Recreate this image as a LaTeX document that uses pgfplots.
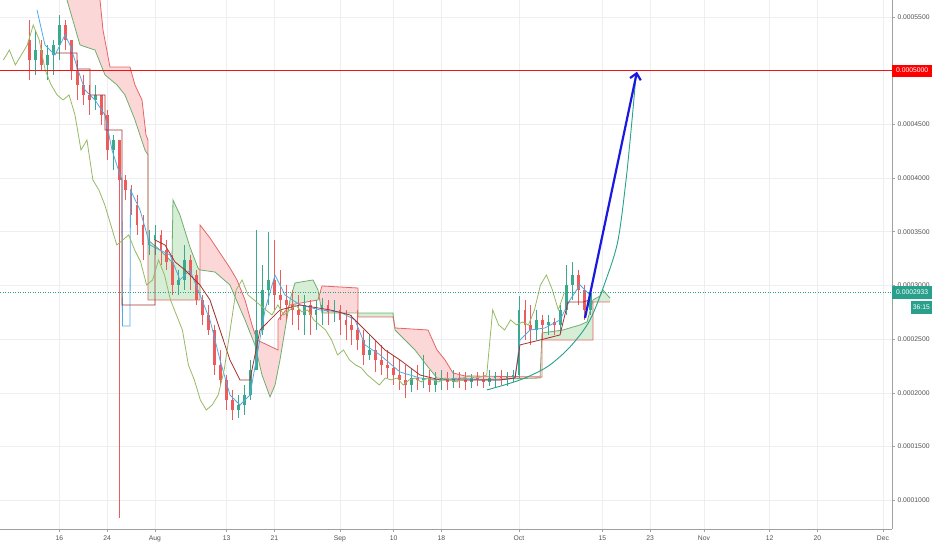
\documentclass[border=0pt]{standalone}
\usepackage{pgfplots}
\pgfplotsset{compat=1.18}
\usepackage{pgfplotstable}
\usepackage{fontspec}
\setmainfont{Liberation Sans}
\usetikzlibrary{arrows.meta}

\definecolor{upc}{RGB}{60,168,140}
\definecolor{dnc}{RGB}{236,92,92}
\definecolor{tenkan}{RGB}{80,170,230}
\definecolor{kijun}{RGB}{165,50,50}
\definecolor{lagging}{RGB}{150,185,100}
\definecolor{spana}{RGB}{110,175,110}
\definecolor{spanb}{RGB}{232,100,100}
\definecolor{cloudred}{RGB}{251,215,215}
\definecolor{cloudgreen}{RGB}{214,237,214}
\definecolor{gridgray}{RGB}{236,238,242}
\definecolor{axisgray}{RGB}{160,160,160}
\definecolor{labelgray}{RGB}{80,80,80}
\definecolor{lastteal}{RGB}{40,160,140}
\definecolor{targetred}{RGB}{240,20,20}
\definecolor{arrowblue}{RGB}{25,25,225}

% daily candles, price in units of 1e-4; d = days after 16 Jul
\pgfplotstableread{
d o h l c
-5 5.286 5.472 4.913 5.099
-4 5.099 5.379 4.960 5.192
-3 5.192 5.286 5.006 5.053
-2 5.053 5.239 4.913 5.146
-1 5.146 5.286 4.960 5.239
0 5.239 5.518 5.099 5.425
1 5.425 5.472 5.192 5.286
2 5.286 5.286 4.913 5.006
3 5.006 5.099 4.727 4.867
4 4.867 4.960 4.680 4.774
5 4.774 4.867 4.587 4.727
6 4.727 4.867 4.634 4.774
7 4.774 4.774 4.494 4.587
8 4.587 4.634 4.168 4.261
9 4.261 4.401 4.075 4.354
10 4.354 4.354 0.835 3.982
11 3.982 4.029 3.796 3.889
12 3.889 3.935 3.656 3.749
13 3.749 3.842 3.470 3.563
14 3.563 3.656 3.237 3.377
15 3.377 3.516 3.284 3.423
16 3.423 3.563 3.284 3.470
17 3.470 3.516 3.191 3.330
18 3.330 3.423 3.144 3.219
19 3.219 3.284 2.911 3.004
20 3.004 3.144 2.911 3.051
21 3.051 3.377 2.958 3.237
22 3.237 3.284 2.958 3.097
23 3.097 3.144 2.818 2.865
24 2.865 2.911 2.632 2.725
25 2.725 2.818 2.539 2.585
26 2.585 2.632 2.166 2.260
27 2.260 2.399 2.073 2.120
28 2.120 2.166 1.840 1.934
29 1.934 2.027 1.747 1.840
30 1.840 1.980 1.766 1.887
31 1.887 2.073 1.794 1.980
32 1.980 2.306 1.934 2.213
33 2.213 3.516 2.213 2.585
34 2.585 3.191 2.539 2.958
35 2.958 3.498 2.818 3.051
36 3.051 3.423 2.772 2.911
37 2.911 3.144 2.679 2.865
38 2.865 3.004 2.679 2.818
39 2.818 2.958 2.632 2.772
40 2.772 2.911 2.585 2.725
41 2.725 2.911 2.539 2.818
42 2.818 2.865 2.539 2.725
43 2.725 2.865 2.585 2.772
44 2.772 2.883 2.632 2.818
45 2.818 2.865 2.632 2.753
46 2.753 2.865 2.660 2.772
47 2.772 2.818 2.539 2.679
48 2.679 2.772 2.492 2.632
49 2.632 2.725 2.446 2.585
50 2.585 2.772 2.399 2.492
51 2.492 2.585 2.260 2.353
52 2.353 2.539 2.306 2.399
53 2.399 2.492 2.194 2.306
54 2.306 2.446 2.166 2.260
55 2.260 2.399 2.138 2.232
56 2.232 2.353 2.073 2.166
57 2.166 2.306 2.027 2.120
58 2.120 2.260 1.952 2.073
59 2.073 2.232 2.008 2.138
60 2.138 2.260 2.027 2.120
61 2.120 2.353 2.045 2.138
62 2.138 2.213 2.008 2.073
63 2.073 2.194 2.008 2.120
64 2.120 2.213 2.027 2.138
65 2.138 2.194 2.027 2.101
66 2.101 2.213 2.045 2.138
67 2.138 2.194 2.045 2.120
68 2.120 2.194 2.027 2.101
69 2.101 2.176 2.045 2.138
70 2.138 2.194 2.064 2.120
71 2.120 2.194 2.045 2.101
72 2.101 2.213 2.064 2.138
73 2.138 2.194 2.045 2.157
74 2.157 2.213 2.073 2.138
75 2.138 2.194 2.064 2.148
76 2.148 2.213 2.101 2.166
77 2.166 2.902 2.138 2.772
78 2.772 2.865 2.492 2.632
79 2.632 2.818 2.446 2.585
80 2.585 2.772 2.492 2.679
81 2.679 2.725 2.492 2.632
82 2.632 2.725 2.539 2.660
83 2.660 2.697 2.539 2.632
84 2.632 2.818 2.567 2.772
85 2.772 3.191 2.725 3.004
86 3.004 3.219 2.865 3.097
87 3.097 3.144 2.818 2.958
88 2.958 3.004 2.679 2.772
89 2.772 2.976 2.725 2.933
}\candles

\pgfplotsset{
  wick/.style={color=#1, draw=none, mark=none, forget plot,
    error bars/.cd, y dir=both, y explicit, error mark=none,
    error bar style={solid, color=#1, line width=0.8bp}},
  body/.style={color=#1, draw=none, mark=none, forget plot,
    error bars/.cd, y dir=both, y explicit, error mark=none,
    error bar style={solid, color=#1, line width=2.8bp}},
}

\begin{document}
\begin{tikzpicture}
\begin{axis}[
    scale only axis,
    width=892bp, height=529bp,
    xmin=-9.97, xmax=139.52,
    ymin=0.732, ymax=5.658,
    axis x line=bottom, axis y line=right,
    axis line style={-, draw=axisgray, line width=1bp},
    xtick={0,8,16,28,36,47,56,64,77,91,99,108,119,127,138},
    xticklabels={16,24,Aug,13,21,Sep,10,18,Oct,15,23,Nov,12,20,Dec},
    ytick={1,1.5,2,2.5,3,3.5,4,4.5,5,5.5},
    yticklabels={0.0001000,0.0001500,0.0002000,0.0002500,0.0003000,0.0003500,0.0004000,0.0004500,0.0005000,0.0005500},
    grid=major,
    major grid style={gridgray, line width=0.6bp},
    tick align=outside, major tick length=3bp,
    tick style={axisgray, line width=0.6bp},
    ticklabel style={font=\fontsize{6.8}{8}\selectfont, text=labelgray},
    yticklabel style={xshift=-1bp},
]

% cloud: red where span B is above span A, green where span A is above
\addplot[fill=cloudred, draw=none] coordinates {
(-9.97,6.5)(5.95,5.798)(6.79,5.658)(7.29,5.379)(8.46,5.034)(11.81,5.034)(12.65,4.867)(13.83,4.727)(14.50,4.401)(14.83,4.354)
(14.83,4.215)(14.33,4.261)(12.65,4.541)(10.97,4.774)(9.64,4.867)(7.63,4.960)(5.95,5.192)(3.44,5.239)(1.26,5.658)(0.08,5.844)(-9.97,6.2)} --cycle;
\addplot[fill=cloudgreen, draw=none] coordinates {
(14.83,3.423)(16.84,3.330)(18.85,3.219)(19.02,3.796)(20.19,3.656)(21.86,3.358)(23.21,3.163)(23.55,3.144)
(23.55,2.865)(14.83,2.865)} --cycle;
\addplot[fill=cloudred, draw=none] coordinates {
(23.55,3.563)(25.22,3.442)(28.57,3.163)(29.75,3.051)(31.09,2.865)(32.26,2.632)(33.10,2.492)(36.62,2.399)(36.62,2.679)(38.45,2.806)
(37.79,2.585)(36.95,2.306)(36.12,2.073)(35.28,1.962)(33.94,2.166)(32.76,2.446)(31.09,2.679)(28.57,3.004)(26.06,3.125)(23.55,3.144)} --cycle;
\addplot[fill=cloudgreen, draw=none] coordinates {
(38.45,2.806)(38.63,2.865)(39.47,3.023)(42.49,3.051)(43.32,2.958)(43.50,2.900)
(43.32,2.865)(38.63,2.818)} --cycle;
\addplot[fill=cloudred, draw=none] coordinates {
(43.50,2.900)(43.99,2.995)(50.03,2.976)(50.03,2.744)(43.99,2.744)} --cycle;
\addplot[fill=cloudgreen, draw=none] coordinates {
(50.03,2.744)(55.89,2.744)(55.89,2.706)(50.03,2.706)} --cycle;
\addplot[fill=cloudred, draw=none] coordinates {
(56.23,2.604)(61.76,2.585)(63.27,2.399)(64.61,2.306)(65.95,2.185)(67.96,2.157)(80.86,2.148)
(80.86,2.138)(80.53,2.138)(68.79,2.120)(65.95,2.120)(63.27,2.138)(61.76,2.241)(59.58,2.399)(56.23,2.585)} --cycle;
\addplot[fill=cloudgreen, draw=none] coordinates {
(80.86,2.557)(84.38,2.585)(86.06,2.613)(87.23,2.632)(88.41,2.660)(89.41,2.865)(90.59,2.902)(91.09,2.958)(91.93,2.902)(92.26,2.883)
(92.26,2.846)(89.41,2.846)(89.41,2.492)(80.86,2.492)} --cycle;

% leading span A
\addplot[spana, line width=0.8bp] coordinates {
(-9.97,6.2)(0.08,5.844)(1.26,5.658)(3.44,5.239)(5.95,5.192)(7.63,4.960)(9.64,4.867)(10.97,4.774)(12.65,4.541)(14.33,4.261)(14.83,4.215)
(14.83,3.423)(16.84,3.330)(18.85,3.219)(19.02,3.796)(20.19,3.656)(21.86,3.358)(23.21,3.163)(23.55,3.144)(26.06,3.125)(28.57,3.004)
(31.09,2.679)(32.76,2.446)(33.94,2.166)(35.28,1.962)(36.12,2.073)(36.95,2.306)(37.79,2.585)(38.63,2.865)(39.47,3.023)(42.49,3.051)
(43.32,2.958)(43.99,2.744)(55.89,2.744)(56.23,2.585)(59.58,2.399)(61.76,2.241)(63.27,2.138)(65.95,2.120)(68.79,2.120)(80.53,2.138)
(80.86,2.557)(84.38,2.585)(86.06,2.613)(87.23,2.632)(88.41,2.660)(89.41,2.865)(90.59,2.902)(91.09,2.958)(91.93,2.902)(92.26,2.883)};
% leading span B
\addplot[spanb, line width=0.8bp] coordinates {
(-9.97,6.5)(5.95,5.798)(6.79,5.658)(7.29,5.379)(8.46,5.034)(11.81,5.034)(12.65,4.867)(13.83,4.727)(14.50,4.401)(14.83,4.354)
(14.83,2.865)(23.55,2.865)(23.55,3.563)(25.22,3.442)(28.57,3.163)(29.75,3.051)(31.09,2.865)(32.26,2.632)(33.10,2.492)(36.62,2.399)
(36.62,2.679)(38.63,2.818)(43.32,2.865)(43.99,2.995)(50.03,2.976)(50.03,2.706)(55.89,2.706)(56.23,2.604)(61.76,2.585)(63.27,2.399)
(64.61,2.306)(65.95,2.185)(67.96,2.157)(80.86,2.148)(80.86,2.492)(89.41,2.492)(89.41,2.846)(92.26,2.846)};

% candles: wicks, then bodies
\addplot[restrict expr to domain={\thisrow{c}-\thisrow{o}}{0:10}, wick=upc]
    table[x=d, y expr={(\thisrow{h}+\thisrow{l})/2}, y error expr={(\thisrow{h}-\thisrow{l})/2}] {\candles};
\addplot[restrict expr to domain={\thisrow{c}-\thisrow{o}}{-10:-0.0001}, wick=dnc]
    table[x=d, y expr={(\thisrow{h}+\thisrow{l})/2}, y error expr={(\thisrow{h}-\thisrow{l})/2}] {\candles};
\addplot[restrict expr to domain={\thisrow{c}-\thisrow{o}}{0:10}, body=upc]
    table[x=d, y expr={(\thisrow{o}+\thisrow{c})/2}, y error expr={max(abs(\thisrow{c}-\thisrow{o})/2,0.006)}] {\candles};
\addplot[restrict expr to domain={\thisrow{c}-\thisrow{o}}{-10:-0.0001}, body=dnc]
    table[x=d, y expr={(\thisrow{o}+\thisrow{c})/2}, y error expr={max(abs(\thisrow{c}-\thisrow{o})/2,0.006)}] {\candles};

% conversion line
\addplot[tenkan, line width=0.8bp] coordinates {
(-3.77,5.565)(-2.43,5.239)(-0.75,5.146)(0.92,5.332)(1.76,5.239)(3.10,5.006)(4.27,4.820)(5.95,4.727)(7.63,4.587)(8.80,4.261)
(10.14,4.029)(10.47,3.982)(10.55,2.623)(11.81,2.623)(11.90,3.889)(13.49,3.703)(15.17,3.377)(16.84,3.330)(18.52,3.284)(20.19,3.051)
(21.86,3.144)(23.55,2.911)(25.22,2.679)(26.90,2.306)(28.57,1.980)(30.25,1.887)(31.92,1.980)(33.27,2.399)(34.44,2.772)(36.12,3.097)
(37.79,2.911)(40.31,2.818)(43.66,2.772)(47.01,2.753)(49.52,2.679)(51.20,2.446)(53.71,2.353)(57.07,2.194)(60.42,2.138)(63.77,2.120)
(67.12,2.138)(70.47,2.120)(73.82,2.120)(76.34,2.138)(77.17,2.492)(78.85,2.585)(81.36,2.604)(83.88,2.679)(85.55,2.865)(87.23,3.004)(88.91,2.911)};
% base line
\addplot[kijun, line width=0.8bp] coordinates {
(-0.59,5.165)(2.93,5.165)(2.93,5.016)(5.11,5.016)(5.11,4.774)(7.63,4.774)(7.63,4.448)(10.47,4.448)(10.47,2.818)(16.00,2.818)
(16.00,3.423)(17.68,3.377)(19.36,3.219)(21.03,3.144)(23.55,3.004)(25.22,2.865)(26.90,2.585)(28.57,2.306)(30.25,2.120)(31.92,2.120)
(33.60,2.585)(35.28,2.679)(36.95,2.772)(40.31,2.818)(45.33,2.772)(48.69,2.725)(50.36,2.632)(52.04,2.539)(54.55,2.399)(57.07,2.306)
(60.42,2.166)(63.77,2.120)(73.82,2.120)(76.34,2.138)(77.17,2.446)(80.53,2.492)(83.88,2.539)(85.22,2.846)(87.74,2.846)(88.91,2.865)};
% lagging span: closes drawn 26 bars back
\addplot[lagging, line width=0.8bp] table[x expr={\thisrow{d}-4.4}, y=c] {\candles};

% last price and target level
\addplot[lastteal, line width=0.7bp, dash pattern=on 1bp off 1.5bp] coordinates {(-9.97,2.933)(139.52,2.933)};
\addplot[targetred, line width=0.9bp] coordinates {(-9.97,5.0)(139.52,5.0)};

% drawn projection: curve and arrow
\addplot[lastteal, line width=0.9bp, smooth] coordinates {
(71.64,2.027)(77.17,2.120)(81.70,2.241)(85.55,2.427)(88.91,2.679)(91.76,3.079)(93.61,3.423)(94.95,3.982)(95.95,4.541)(96.62,4.960)};
\addplot[arrowblue, line width=2.2bp, -{Straight Barb[length=6bp,width=11bp]}] coordinates {(88.07,2.697)(96.78,4.99)};

\coordinate (labtarget) at (axis cs:139.52,5.0);
\coordinate (lablast) at (axis cs:139.52,2.933);
\end{axis}
\node[fill=red, text=white, anchor=west, inner xsep=0pt, inner ysep=0pt,
      minimum width=40bp, minimum height=12bp, font=\fontsize{6.8}{8}\selectfont] at (labtarget) {0.0005000};
\node[fill=lastteal, text=white, anchor=west, inner xsep=0pt, inner ysep=0pt,
      minimum width=40bp, minimum height=13bp, font=\fontsize{6.8}{8}\selectfont] at (lablast) {0.0002933};
\node[fill=lastteal, text=white, anchor=north east, inner xsep=2bp, inner ysep=0pt,
      minimum height=13bp, font=\fontsize{6.8}{8}\selectfont] at ([xshift=40bp,yshift=-8bp]lablast) {36:15};
\pgfresetboundingbox
\useasboundingbox (0,-21bp) rectangle (932bp,529bp);
\end{tikzpicture}
\end{document}
